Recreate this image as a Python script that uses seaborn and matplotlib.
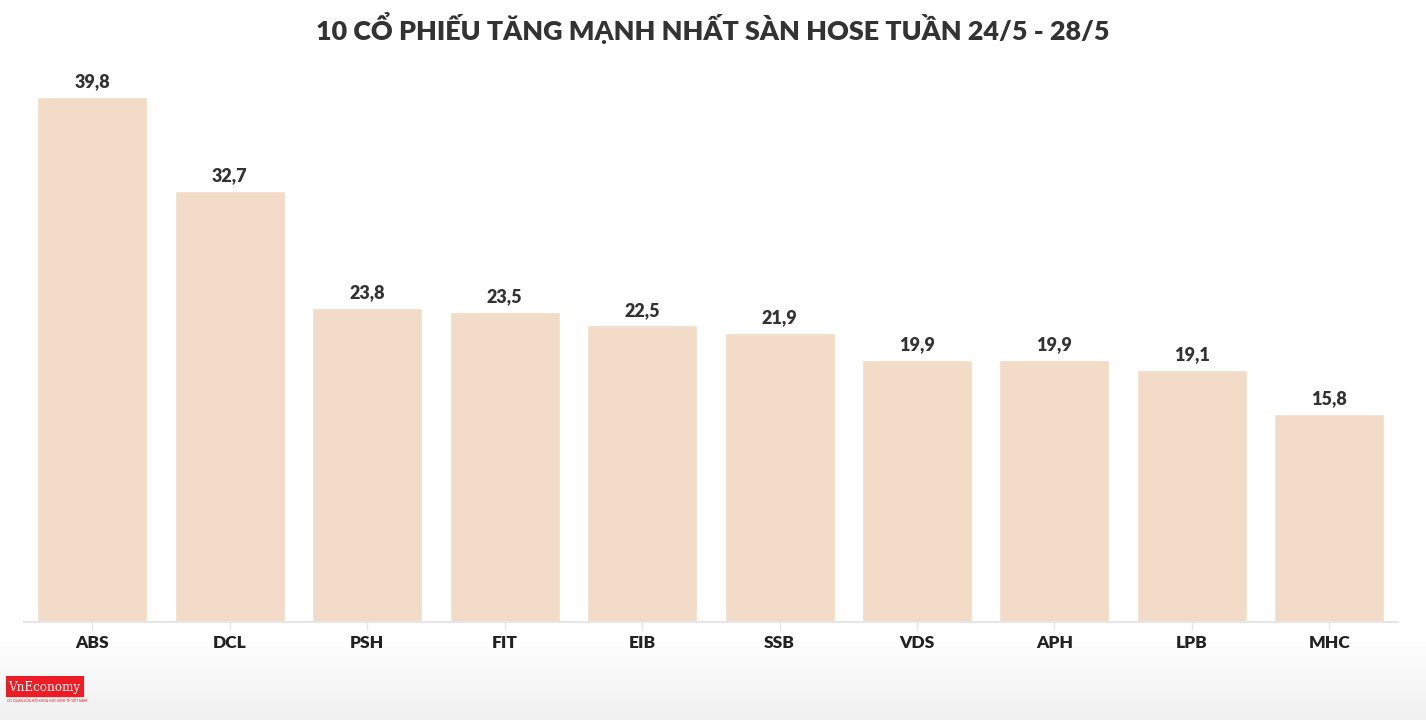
import matplotlib
matplotlib.use("Agg")
import matplotlib.pyplot as plt
import seaborn as sns
import numpy as np
import pandas as pd
from matplotlib.patches import Rectangle

categories = ["ABS", "DCL", "PSH", "FIT", "EIB", "SSB", "VDS", "APH", "LPB", "MHC"]
values = [39.8, 32.7, 23.8, 23.5, 22.5, 21.9, 19.9, 19.9, 19.1, 15.8]
title = "10 CỔ PHIẾU TĂNG MẠNH NHẤT SÀN HOSE TUẦN 24/5 - 28/5"

sns.set_theme(style="white")
plt.rcParams['font.family'] = ['Lato', 'DejaVu Sans']

df = pd.DataFrame({"ma": categories, "val": values})

fig = plt.figure(figsize=(14.26, 7.2), dpi=100)
fig.patch.set_facecolor("white")

# bottom gradient shadow
gax = fig.add_axes([0, 0, 1, 0.11], zorder=0)
grad = np.linspace(0.0, 1.0, 100).reshape(-1, 1)
gax.imshow(grad, aspect="auto",
           cmap=matplotlib.colors.LinearSegmentedColormap.from_list("g", ["#f0f0f0", "#ffffff"]),
           extent=[0, 1, 0, 1], origin="lower", vmin=0, vmax=1)
gax.axis("off")

ax = fig.add_axes([23.75 / 1426, 98 / 720, (1398 - 23.75) / 1426, 552 / 720], zorder=1)
ax.patch.set_alpha(0)
sns.barplot(data=df, x="ma", y="val", color="#f2dbc7", saturation=1, width=0.8, ax=ax)
ax.set_ylim(0, 41.85)
ax.set_xlim(-0.5, len(categories) - 0.5)
ax.set_xlabel("")
ax.set_ylabel("")
ax.set_yticks([])
for s in ["top", "right", "left"]:
    ax.spines[s].set_visible(False)
ax.spines["bottom"].set_color("#e6e6e6")
ax.spines["bottom"].set_linewidth(1.5)
ax.tick_params(axis="x", bottom=True, length=6, width=1, color="#e6e6e6", pad=3,
               labelsize=12.5, labelcolor="#222222")
for lbl in ax.get_xticklabels():
    lbl.set_fontweight("heavy")

for i, v in enumerate(values):
    ax.text(i, v + 0.5, f"{v:.1f}".replace(".", ","), ha="center", va="bottom",
            fontsize=13, fontweight="heavy", color="#333333")

fig.text(0.5, 1 - 28 / 720, title, ha="center", va="center", fontsize=19.4,
         fontweight="heavy", color="#333333")

# logo
lax = fig.add_axes([6 / 1426, 1 - 706 / 720, 78 / 1426, 30 / 720], zorder=2)
lax.set_xlim(0, 78)
lax.set_ylim(30, 0)
lax.axis("off")
lax.add_patch(Rectangle((0, 0), 77, 20, color="#ee1c25"))
lax.text(38.5, 11.5, "VnEconomy", ha="center", va="center", color="white",
         fontsize=8.6, family="DejaVu Serif")
lax.text(1, 24.5, "CƠ QUAN CỦA HỘI KHOA HỌC KINH TẾ VIỆT NAM", ha="left", va="center",
         color="#ee1c25", fontsize=2.4)

fig.savefig("out.png", dpi=100, facecolor="white")
